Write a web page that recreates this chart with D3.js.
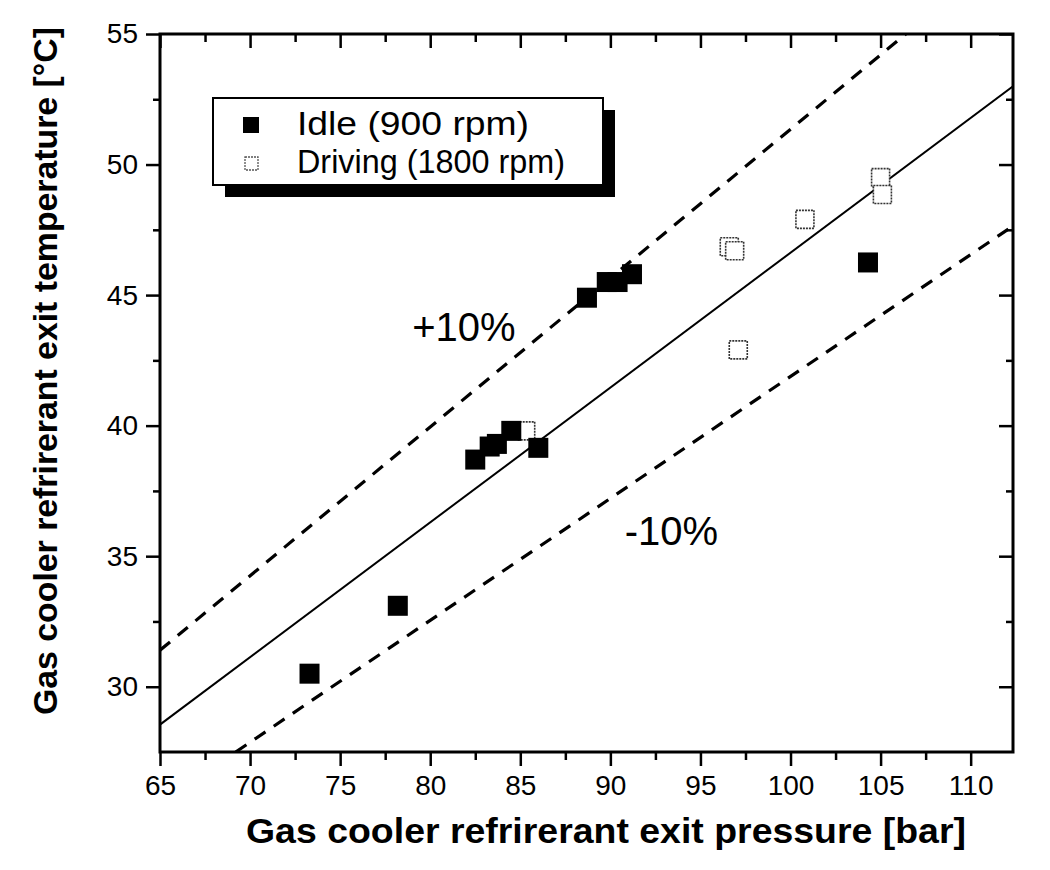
<!DOCTYPE html>
<html>
<head>
<meta charset="utf-8">
<script src="https://cdnjs.cloudflare.com/ajax/libs/d3/7.8.5/d3.min.js"></script>
<style>
  body { margin: 0; background: #fff; }
  svg { display: block; font-family: "Liberation Sans", Arial, sans-serif; }
</style>
</head>
<body>
<svg></svg>
<script>
// idle points (900 rpm)
const idleP = [73.3, 78.2, 82.5, 83.3, 83.7, 84.5, 86.0, 88.7, 89.8, 90.4, 91.2, 104.3];
const idleT = [30.5, 33.1, 38.7, 39.2, 39.3, 39.8, 39.15, 44.9, 45.5, 45.5, 45.8, 46.25];
// driving points (1800 rpm)
const driveP = [85.3, 96.6, 96.9, 97.1, 100.8, 105.0, 105.1];
const driveT = [39.8, 46.85, 46.7, 42.9, 47.9, 49.5, 48.85];
// correlation line and +-10% band, end points
const fitP = [65, 112.35];
const fitT = [28.55, 53.0];
const upperP = [65, 106.4];
const upperT = [31.4, 55];
const lowerP = [69.2, 112.35];
const lowerT = [27.5, 47.65];

const xTicks = [65, 70, 75, 80, 85, 90, 95, 100, 105, 110];
const yTicks = [30, 35, 40, 45, 50, 55];
const xMinor = [67.5, 72.5, 77.5, 82.5, 87.5, 92.5, 97.5, 102.5, 107.5];
const yMinor = [32.5, 37.5, 42.5, 47.5, 52.5];

let width = 1050;
let height = 870;
let plotL = 160, plotR = 1013, plotT = 34, plotB = 752;

const svg = d3.select("svg")
  .attr("width", width)
  .attr("height", height);

const x = d3.scaleLinear().domain([65, 112.35]).range([plotL, plotR]);
const y = d3.scaleLinear().domain([27.5, 55]).range([plotB, plotT]);

svg.append("defs").append("clipPath")
  .attr("id", "plot")
  .append("rect")
  .attr("x", plotL).attr("y", plotT)
  .attr("width", plotR - plotL).attr("height", plotB - plotT);

// axes: outward ticks bottom/left, inward mirror ticks top/right
function styleAxis(g) {
  g.select(".domain").remove();
  g.selectAll("line").attr("stroke", "#000").attr("stroke-width", 2.5);
  g.selectAll("text").attr("fill", "#000").attr("font-size", 28);
}

svg.append("g")
  .attr("transform", `translate(0, ${plotB})`)
  .call(d3.axisBottom(x).tickValues(xTicks).tickSize(14).tickPadding(9))
  .call(styleAxis);
svg.append("g")
  .attr("transform", `translate(0, ${plotB})`)
  .call(d3.axisBottom(x).tickValues(xMinor).tickSize(8).tickFormat(""))
  .call(styleAxis);

svg.append("g")
  .attr("transform", `translate(${plotL}, 0)`)
  .call(d3.axisLeft(y).tickValues(yTicks).tickSize(14).tickPadding(8))
  .call(styleAxis);
svg.append("g")
  .attr("transform", `translate(${plotL}, 0)`)
  .call(d3.axisLeft(y).tickValues(yMinor).tickSize(7).tickFormat(""))
  .call(styleAxis);

svg.append("g")
  .attr("transform", `translate(0, ${plotT})`)
  .call(d3.axisBottom(x).tickValues(xTicks).tickSize(14).tickFormat(""))
  .call(styleAxis);
svg.append("g")
  .attr("transform", `translate(0, ${plotT})`)
  .call(d3.axisBottom(x).tickValues(xMinor).tickSize(8).tickFormat(""))
  .call(styleAxis);

svg.append("g")
  .attr("transform", `translate(${plotR}, 0)`)
  .call(d3.axisLeft(y).tickValues(yTicks).tickSize(14).tickFormat(""))
  .call(styleAxis);
svg.append("g")
  .attr("transform", `translate(${plotR}, 0)`)
  .call(d3.axisLeft(y).tickValues(yMinor).tickSize(7).tickFormat(""))
  .call(styleAxis);

svg.append("rect")
  .attr("x", plotL).attr("y", plotT)
  .attr("width", plotR - plotL).attr("height", plotB - plotT)
  .attr("fill", "none")
  .attr("stroke", "#000")
  .attr("stroke-width", 3);

// lines
const line = d3.line().x(d => x(d[0])).y(d => y(d[1]));
const lines = [
  { p: fitP, t: fitT, dash: null, w: 2 },
  { p: upperP, t: upperT, dash: "13,10", w: 3.2 },
  { p: lowerP, t: lowerT, dash: "13,10", w: 3.2 }
];
svg.append("g")
  .attr("clip-path", "url(#plot)")
  .selectAll("path")
  .data(lines)
  .enter()
  .append("path")
  .attr("d", d => line(d.p.map((v, i) => [v, d.t[i]])))
  .attr("fill", "none")
  .attr("stroke", "#000")
  .attr("stroke-width", d => d.w)
  .attr("stroke-dasharray", d => d.dash);

// points
let sq = 20;
svg.append("g")
  .selectAll("rect")
  .data(driveP.map((v, i) => [v, driveT[i]]))
  .enter()
  .append("rect")
  .attr("x", d => x(d[0]) - sq / 2 + 1)
  .attr("y", d => y(d[1]) - sq / 2 + 1)
  .attr("width", sq - 2)
  .attr("height", sq - 2)
  .attr("fill", "#fff")
  .attr("stroke", "#333")
  .attr("stroke-width", 1.6)
  .attr("stroke-dasharray", "2,1");

svg.append("g")
  .selectAll("rect")
  .data(idleP.map((v, i) => [v, idleT[i]]))
  .enter()
  .append("rect")
  .attr("x", d => x(d[0]) - sq / 2)
  .attr("y", d => y(d[1]) - sq / 2)
  .attr("width", sq)
  .attr("height", sq)
  .attr("fill", "#000");

// band labels
svg.append("text")
  .attr("x", x(79.0)).attr("y", y(43.24))
  .attr("font-size", 40)
  .text("+10%");
svg.append("text")
  .attr("x", x(90.8)).attr("y", y(35.43))
  .attr("font-size", 40)
  .text("-10%");

// legend with drop shadow
const legend = svg.append("g");
legend.append("rect")
  .attr("x", 225).attr("y", 110)
  .attr("width", 390).attr("height", 87)
  .attr("fill", "#000");
legend.append("rect")
  .attr("x", 213).attr("y", 98)
  .attr("width", 390).attr("height", 87)
  .attr("fill", "#fff")
  .attr("stroke", "#000")
  .attr("stroke-width", 2);
legend.append("rect")
  .attr("x", 243).attr("y", 117)
  .attr("width", 16).attr("height", 16)
  .attr("fill", "#000");
legend.append("rect")
  .attr("x", 245).attr("y", 157)
  .attr("width", 13).attr("height", 13)
  .attr("fill", "#fff")
  .attr("stroke", "#555")
  .attr("stroke-width", 1.3)
  .attr("stroke-dasharray", "2,1");
legend.append("text")
  .attr("x", 297).attr("y", 135)
  .attr("font-size", 34)
  .attr("textLength", 232)
  .attr("lengthAdjust", "spacingAndGlyphs")
  .text("Idle (900 rpm)");
legend.append("text")
  .attr("x", 297).attr("y", 173)
  .attr("font-size", 34)
  .attr("textLength", 268)
  .attr("lengthAdjust", "spacingAndGlyphs")
  .text("Driving (1800 rpm)");

// axis titles
svg.append("text")
  .attr("x", 606).attr("y", 843)
  .attr("text-anchor", "middle")
  .attr("font-weight", "bold")
  .attr("font-size", 35)
  .attr("textLength", 720)
  .attr("lengthAdjust", "spacingAndGlyphs")
  .text("Gas cooler refrirerant exit pressure [bar]");

svg.append("text")
  .attr("transform", "translate(57, 371) rotate(-90)")
  .attr("text-anchor", "middle")
  .attr("font-weight", "bold")
  .attr("font-size", 34)
  .attr("textLength", 688)
  .attr("lengthAdjust", "spacingAndGlyphs")
  .text("Gas cooler refrirerant exit temperature [°C]");
</script>
</body>
</html>
